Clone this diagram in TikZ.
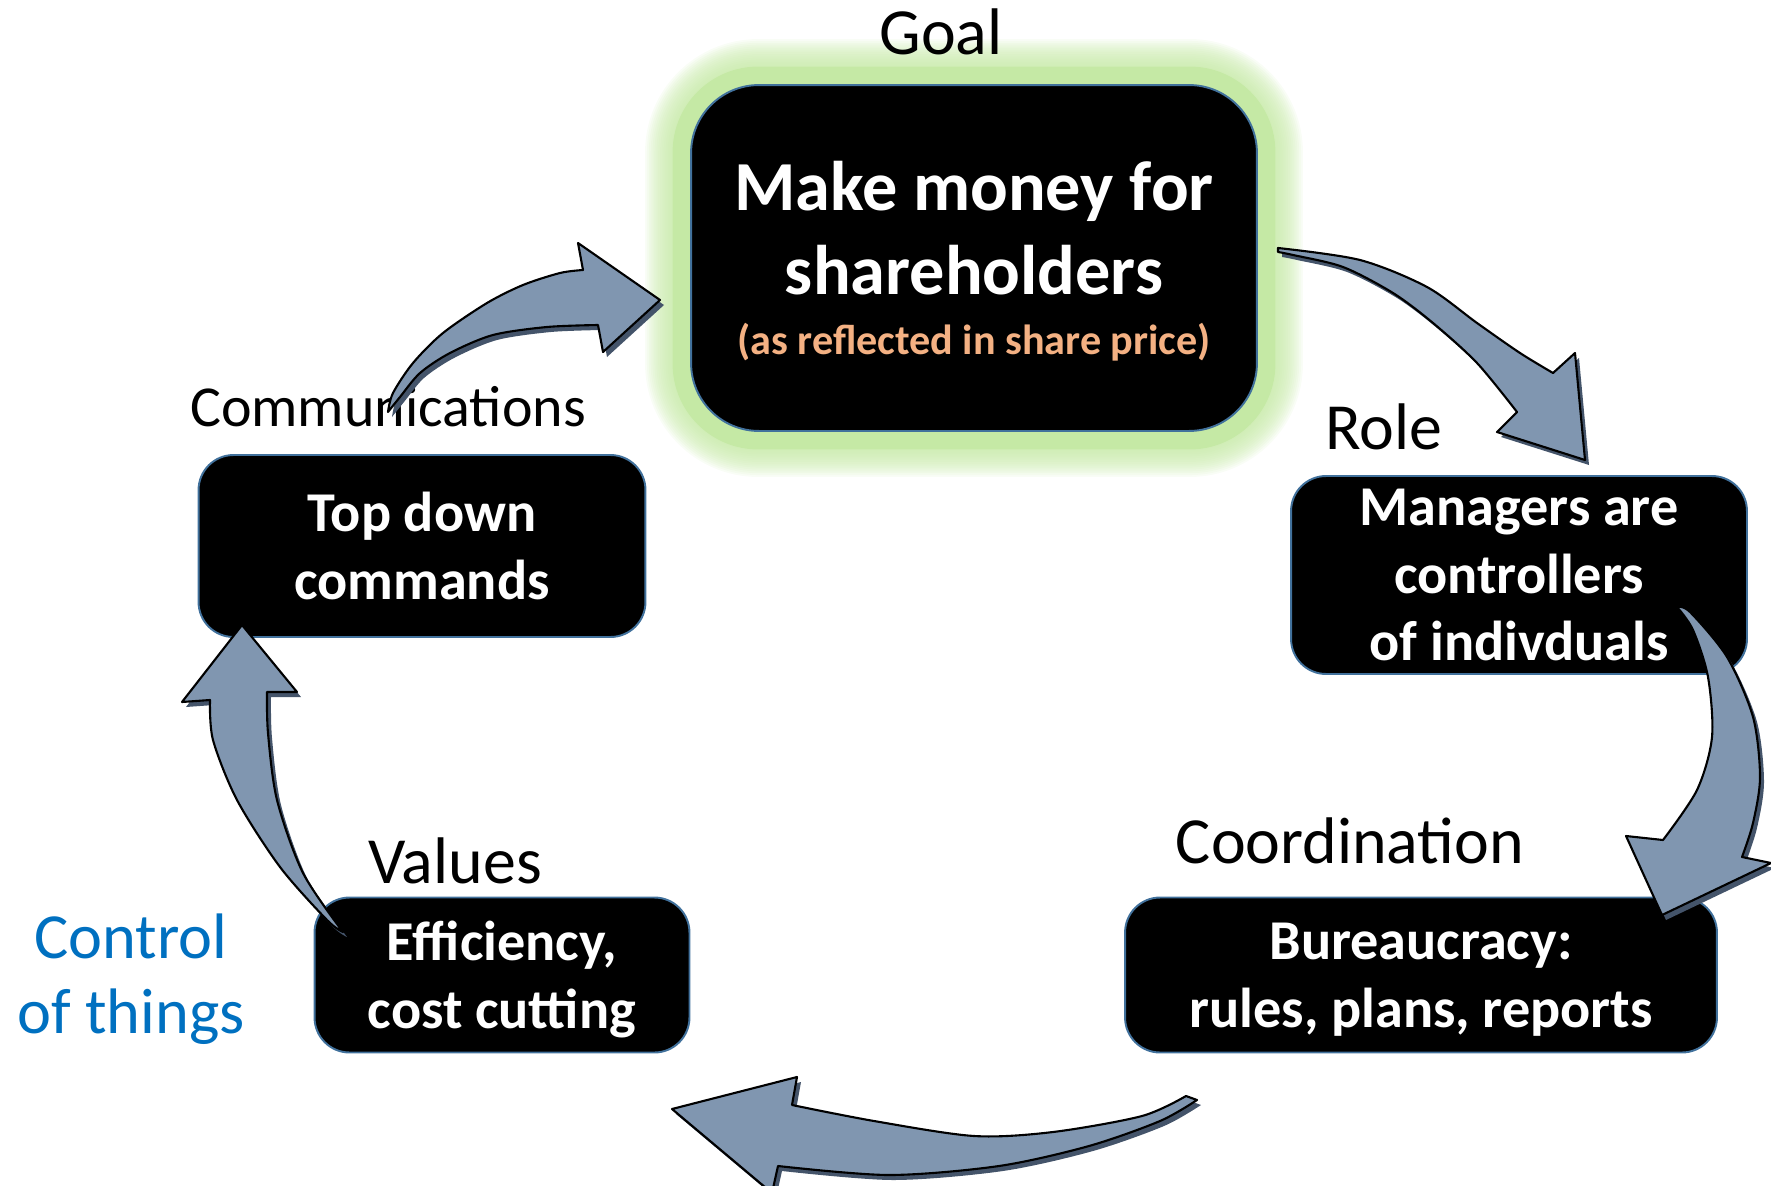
\documentclass[tikz,border=0pt]{standalone}
\usepackage{fontspec}
\setmainfont{Carlito}
\usetikzlibrary{shadows,backgrounds}

\definecolor{glowgreen}{RGB}{197,233,165}
\definecolor{edgeblue}{RGB}{65,113,156}
\definecolor{arrowfill}{RGB}{128,150,176}
\definecolor{arrowshade}{RGB}{68,84,106}
\definecolor{pricetext}{RGB}{244,177,131}
\definecolor{ctrlblue}{RGB}{0,112,192}

\begin{document}
\begin{tikzpicture}[
    x=0.02cm, y=-0.02cm,
    box/.style={rectangle, rounded corners=0.7cm, fill=black,
                draw=edgeblue, line width=1.1pt, text=white,
                align=center, inner sep=0pt,
                font=\fontsize{32}{38.5}\selectfont\bfseries},
    goalbox/.style={box, rounded corners=1.36cm,
                    font=\fontsize{40}{48}\selectfont\bfseries},
    heading/.style={font=\fontsize{37.5}{44}\selectfont},
    flow/.style={fill=arrowfill, draw=black, line width=1.2pt,
                 line join=round,
                 drop shadow={shadow xshift=0.08cm, shadow yshift=-0.1cm,
                              fill=arrowshade, opacity=1}},
]
\useasboundingbox (0,0) rectangle (1771,1186);

% Boxes
\node[goalbox, minimum width=11.32cm, minimum height=6.92cm, text depth=-7pt]
     (goal) at (974,258)
     {Make money for\\shareholders\\[-14pt]
      {\fontsize{24}{29}\selectfont\color{pricetext}(as reflected in share price)}};
\node[box, minimum width=8.94cm, minimum height=3.64cm]
     (topdown) at (422,546) {Top down\\commands};
\node[box, minimum width=9.12cm, minimum height=3.96cm]
     (managers) at (1519,575) {Managers are\\controllers\\of indivduals};
\node[box, minimum width=11.84cm, minimum height=3.1cm, text depth=-1pt]
     (bureau) at (1421,975) {Bureaucracy:\\rules, plans, reports};
\node[box, minimum width=7.5cm, minimum height=3.1cm, text depth=-1pt]
     (effic) at (502,975) {Efficiency,\\cost cutting};

% Soft glow behind the goal box
\begin{scope}[on background layer]
  \foreach \w in {0.75,0.825,...,1.8}
    \draw[glowgreen, opacity=0.1, line width=\w cm, rounded corners=1.36cm]
      (goal.north west) rectangle (goal.south east);
  \draw[glowgreen, line width=0.7cm, rounded corners=1.36cm]
    (goal.north west) rectangle (goal.south east);
\end{scope}

% Headings over the boxes
\node[heading] (goallbl)   at (941,32)   {Goal};
\node[heading, font=\fontsize{33}{40}\selectfont]
               (commlbl)   at (388,407)  {Communications};
\node[heading] (rolelbl)   at (1384,427) {Role};
\node[heading] (coordlbl)  at (1350,841) {Coordination};
\node[heading] (valueslbl) at (455,861)  {Values};
\node[font=\fontsize{36.6}{43}\selectfont, text=ctrlblue, align=center]
     (control) at (131,979) {Control\\of things};

% Curved block arrows round the cycle
% communications -> goal
\draw[flow] (388,412)
  -- plot[smooth] coordinates {(388,412) (393,393) (413,363) (443,333)
                               (487,303) (523,285) (560,273) (583,270)}
  -- (578,243) -- (660,300) -- (603,352) -- (598,325)
  -- plot[smooth] coordinates {(598,325) (547,327) (493,335) (450,353)
                               (420,373) (400,397) (388,412)}
  -- cycle;

% goal -> managers
\draw[flow] (1278,248)
  -- plot[smooth] coordinates {(1278,248) (1360,260) (1427,287)
                               (1477,323) (1520,353) (1553,373)}
  -- (1575,353) -- (1585,460) -- (1497,432) -- (1517,412)
  -- plot[smooth] coordinates {(1517,412) (1477,363) (1433,323)
                               (1393,293) (1343,267) (1293,255) (1278,252)}
  -- cycle;

% managers -> bureaucracy
\draw[flow] (1677,607)
  -- plot[smooth] coordinates {(1677,607) (1690,612) (1727,657) (1753,717)
                               (1760,777) (1753,823) (1742,857)}
  -- (1771,863) -- (1662,915) -- (1626,836) -- (1663,840)
  -- plot[smooth] coordinates {(1663,840) (1697,790) (1712,737)
                               (1708,677) (1693,630) (1677,607)}
  -- cycle;

% bureaucracy -> efficiency
\draw[flow] (1186,1096)
  -- plot[smooth] coordinates {(1186,1096) (1142,1116) (1053,1132)
                               (974,1136) (874,1121) (792,1105)}
  -- (797,1077) -- (672,1109) -- (772,1193) -- (778,1166)
  -- plot[smooth] coordinates {(778,1166) (889,1175) (999,1166)
                               (1089,1146) (1160,1121) (1197,1100)}
  -- cycle;

% efficiency -> top down
\draw[flow] (343,932)
  -- plot[smooth] coordinates {(343,932) (327,920) (280,867) (237,800)
                               (213,740) (210,700)}
  -- (182,702) -- (242,625) -- (297,692) -- (267,692)
  -- plot[smooth] coordinates {(267,692) (268,733) (277,800)
                               (303,873) (343,932)}
  -- cycle;

\end{tikzpicture}
\end{document}
